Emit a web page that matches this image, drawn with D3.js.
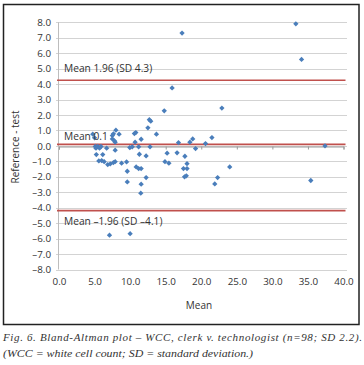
<!DOCTYPE html>
<html><head><meta charset="utf-8">
<script src="https://cdn.jsdelivr.net/npm/d3@7"></script>
<style>html,body{margin:0;padding:0;background:#fff;}svg{display:block;}</style>
</head><body>
<script>
// ---- data ----
const meanVals = [17.3,33.3,34.1,15.9,22.9,14.8,37.4,35.4,7.1,10.0,
  12.7,12.9,12.5,13.7,10.8,10.6,8.45,11.55,10.7,7.9,16.8,18.4,18.8,21.5,20.6,8.0,7.65,7.5,7.5,7.8,4.75,5.0,
  19.2,9.95,10.3,11.2,12.8,5.1,5.45,5.9,6.7,5.2,5.7,7.9,11.3,12.25,15.2,16.6,17.7,5.25,6.15,
  14.9,15.45,18.0,17.5,18.0,17.65,17.9,24.0,22.3,21.9,7.9,8.8,9.5,9.6,10.85,11.2,11.55,12.25,9.6,11.55,11.5,
  5.6,6.0,6.35,6.85,7.2,7.65];
const diffVals = [7.3,7.9,5.6,3.75,2.45,2.27,0.0,-2.24,-5.78,-5.68,
  1.7,1.6,1.17,0.76,0.86,0.8,0.76,0.43,0.24,0.24,0.21,0.24,0.45,0.54,0.15,1.02,0.78,0.67,0.45,0.32,0.76,0.52,
  -0.17,-0.11,-0.06,-0.06,-0.06,-0.04,-0.04,-0.04,-0.15,-0.15,-0.15,-0.28,-0.54,-0.65,-0.47,-0.45,-0.67,-0.56,-0.56,
  -1.02,-1.12,-1.15,-1.47,-1.47,-2.0,-1.94,-1.36,-2.05,-2.46,-1.02,-1.12,-1.04,-1.64,-1.36,-1.47,-1.47,-2.05,-2.33,-2.48,-3.06,
  -0.97,-0.95,-1.02,-1.21,-1.17,-1.08];
const xTicks = [0,5,10,15,20,25,30,35,40];
const yTicks = [-8,-7,-6,-5,-4,-3,-2,-1,0,1,2,3,4,5,6,7,8];
const refValues = [4.25, 0.1, -4.19];
const refLabels = ["Mean 1.96 (SD 4.3)", "Mean 0.1", "Mean \u20131.96 (SD \u20134.1)"];
const labelValues = [5.0, 0.6, -4.9];
const xTitle = "Mean";
const yTitle = "Reference - test";
const caption1 = "Fig. 6. Bland-Altman plot \u2013 WCC, clerk v. technologist (n=98; SD 2.2).";
const caption2 = "(WCC = white cell count; SD = standard deviation.)";

// ---- drawing ----
const W = 364, H = 365;
const svg = d3.select("body").append("svg").attr("width", W).attr("height", H);
const font = "'Open Sans', 'Liberation Sans', sans-serif";
const x = d3.scaleLinear().domain([0, 40]).range([59, 343.5]);
const y = d3.scaleLinear().domain([-8, 8]).range([269.5, 22.3]);
const fmt = v => (v < 0 ? "\u2013" : "") + Math.abs(v).toFixed(1);

// frame
svg.append("rect").attr("x", 3.5).attr("y", 4.5).attr("width", 355.5).attr("height", 320)
  .attr("fill", "none").attr("stroke", "#222").attr("stroke-width", 1.5);

// gridlines
svg.append("g").selectAll("line").data(yTicks).join("line")
  .attr("x1", 56).attr("x2", 347)
  .attr("y1", d => Math.round(y(d)) + 0.5).attr("y2", d => Math.round(y(d)) + 0.5)
  .attr("stroke", "#d3d3d3").attr("stroke-width", 1);

// y axis line
svg.append("line").attr("x1", 58.5).attr("x2", 58.5).attr("y1", y(8)).attr("y2", y(-8))
  .attr("stroke", "#bdbdbd");

// y tick labels
const yAxis = d3.axisLeft(y).tickValues(yTicks).tickFormat(fmt).tickSize(0).tickPadding(0);
const gy = svg.append("g").attr("transform", "translate(51,0)").call(yAxis);
gy.select(".domain").remove();
gy.selectAll("text").attr("font-family", font).attr("font-size", 9.8).attr("fill", "#333");

// x axis at y=0 with tick marks
const xAxisLine = d3.axisBottom(x).tickValues(xTicks).tickSize(3).tickFormat("");
const gx = svg.append("g").attr("transform", `translate(0,${Math.round(y(0)) + 0.5})`).call(xAxisLine);
gx.select(".domain").attr("stroke", "#9a9a9a");
gx.selectAll(".tick line").attr("stroke", "#9a9a9a");

// x tick labels at bottom
const xLabels = d3.axisBottom(x).tickValues(xTicks).tickFormat(fmt).tickSize(0).tickPadding(0);
const gxl = svg.append("g").attr("transform", "translate(0,278)").call(xLabels);
gxl.select(".domain").remove();
gxl.selectAll("text").attr("font-family", font).attr("font-size", 9.8).attr("fill", "#333");

// reference lines
svg.append("g").selectAll("line").data(refValues).join("line")
  .attr("x1", 57).attr("x2", 345.5)
  .attr("y1", d => y(d)).attr("y2", d => y(d))
  .attr("stroke", "#c0504d").attr("stroke-width", 1.6);

// points
svg.append("g").selectAll("path").data(meanVals.map((m, i) => [m, diffVals[i]])).join("path")
  .attr("d", d3.symbol(d3.symbolSquare, 14))
  .attr("transform", d => `translate(${x(d[0])},${y(d[1])}) rotate(45)`)
  .attr("fill", "#4a7ebb");

// reference labels
svg.append("g").selectAll("text").data(refLabels).join("text")
  .attr("x", 64).attr("y", (d, i) => y(labelValues[i]))
  .attr("dy", "0.35em")
  .attr("font-family", font).attr("font-size", 10.2).attr("fill", "#333")
  .text(d => d);

// axis titles
svg.append("text").attr("x", 199).attr("y", 309).attr("text-anchor", "middle")
  .attr("font-family", font).attr("font-size", 10).attr("fill", "#333").text(xTitle);
svg.append("text").attr("transform", "translate(19,147) rotate(-90)").attr("text-anchor", "middle")
  .attr("font-family", font).attr("font-size", 10).attr("fill", "#333").text(yTitle);

// caption
const serif = "'Liberation Serif', 'DejaVu Serif', serif";
svg.append("text").attr("x", 3).attr("y", 341)
  .attr("font-family", serif).attr("font-style", "italic").attr("font-size", 11).attr("fill", "#333")
  .attr("textLength", 359).attr("lengthAdjust", "spacing").text(caption1);
svg.append("text").attr("x", 3).attr("y", 356.5)
  .attr("font-family", serif).attr("font-style", "italic").attr("font-size", 11).attr("fill", "#333")
  .attr("textLength", 250).attr("lengthAdjust", "spacingAndGlyphs").text(caption2);
</script>
</body></html>
